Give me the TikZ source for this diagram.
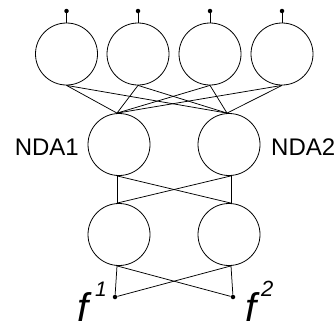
\documentclass[tikz,border=0pt]{standalone}
\usepackage{fontspec}
\setmainfont{Liberation Sans}
\begin{document}
\begin{tikzpicture}[x=1pt,y=-1pt,
  neuron/.style={circle,draw=black,line width=0.8pt,minimum size=62pt,inner sep=0pt},
  wire/.style={draw=black,line width=0.75pt},
  pin/.style={circle,fill=black,inner sep=0pt,minimum size=4.5pt},
  tag/.style={font=\fontsize{24}{24}\selectfont,inner sep=0pt},
  ftag/.style={font=\fontsize{40}{40}\selectfont\itshape,inner xsep=4pt,inner ysep=0pt,text depth=0pt},
  stag/.style={font=\fontsize{21}{21}\selectfont\itshape,inner xsep=2pt,inner ysep=0pt}]
  \useasboundingbox (0,0) rectangle (336,327);
  % input layer
  \foreach \i/\x in {1/66.5,2/138,3/210,4/282}{
    \node[neuron] (t\i) at (\x,54) {};
    \node[pin] (p\i) at (\x,11) {};
    \draw[wire] (p\i) -- (t\i.north);
  }
  % NDA layer
  \node[neuron] (m1) at (119,144.5) {};
  \node[neuron] (m2) at (229,144.5) {};
  \node[tag,anchor=base east] (l1) at (79,155) {NDA1};
  \node[tag,anchor=base west] (l2) at (271,155) {NDA2};
  % output layer
  \node[neuron] (b1) at (119,234.5) {};
  \node[neuron] (b2) at (229,234.5) {};
  % output pins and their labels
  \node[pin] (o1) at (115,297) {};
  \node[pin] (o2) at (233,297) {};
  \node[ftag,anchor=base west] (f1) at (73,321) {f};
  \node[stag,anchor=base west] (s1) at (93,296) {1};
  \node[ftag,anchor=base west] (f2) at (241,321) {f};
  \node[stag,anchor=base west,font=\fontsize{22}{22}\selectfont\itshape] (s2) at (259,296) {2};
  % input -> NDA
  \foreach \i in {1,2,3,4}{
    \draw[wire] (t\i.south) -- ([xshift=-2pt]m1.north);
    \draw[wire] (t\i.south) -- ([xshift=-2pt]m2.north);
  }
  % NDA -> output
  \draw[wire] ([xshift=-2pt]m1.south) -- ([xshift=-2pt]b1.north);
  \draw[wire] ([xshift=-2pt]m1.south) -- ([xshift=2pt]b2.north);
  \draw[wire] ([xshift=2pt]m2.south) -- ([xshift=2pt]b2.north);
  \draw[wire] ([xshift=2pt]m2.south) -- ([xshift=-2pt]b1.north);
  % output -> pins
  \draw[wire] ([xshift=-2pt]b1.south) -- (o1);
  \draw[wire] ([xshift=-2pt]b1.south) -- (o2);
  \draw[wire] ([xshift=2pt]b2.south) -- (o2);
  \draw[wire] ([xshift=2pt]b2.south) -- (o1);
\end{tikzpicture}
\end{document}
